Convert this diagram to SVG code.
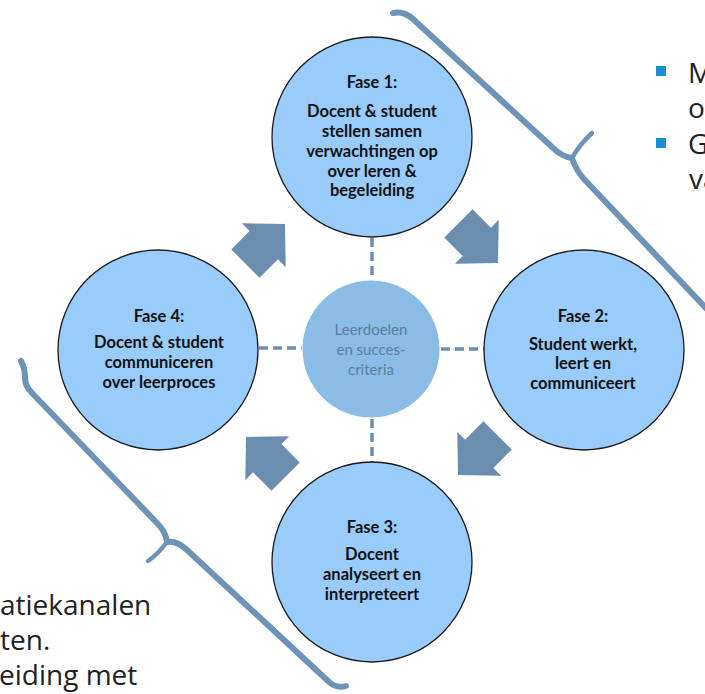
<svg xmlns="http://www.w3.org/2000/svg" width="705" height="694" viewBox="0 0 705 694">
<style>
.phase{fill:#99ccfb;stroke:#1a1a1a;stroke-width:1.3}
.hub{fill:#8bbce5;stroke:#ffffff;stroke-width:1}
.lbl{font-family:Lato,"Liberation Sans",sans-serif;font-weight:700;font-size:16.5px;fill:#111;text-anchor:middle}
.hubtxt{font-family:Lato,"Liberation Sans",sans-serif;font-size:15px;fill:#5b7ea1;text-anchor:middle}
.dash{stroke:#6b8fb2;stroke-width:3.5;stroke-dasharray:9 5;fill:none}
.arrow{fill:#6a8db0}
.brace{fill:none;stroke:#6d93b7;stroke-width:6;stroke-linecap:round;stroke-linejoin:round}
.body{font-family:"Open Sans","Liberation Sans",sans-serif;font-size:28px;fill:#222}
.bullet{fill:#1a8fd6}
</style>
<defs>
<polygon id="blk" points="0,0 -30,-31 -30,-20 -56,-20 -56,20 -30,20 -30,31"/>
</defs>
<g id="braces">
<path class="brace" d="M393,13 Q404,11 413,19 L552,147 Q562,157 572,158"/>
<path class="brace" d="M572,158 Q575,168 583,178 L722,325"/>
<path class="brace" d="M572,158 Q580,144 592,133" style="stroke-width:4.5"/>
<path class="brace" d="M21,361 Q25,368 25,378 Q25,386 32,393 L157,523 Q166,532 167,542"/>
<path class="brace" d="M167,542 Q176,540 186,549 L328,681 Q336,689 346,686"/>
<path class="brace" d="M167,542 Q158,554 148,561" style="stroke-width:4.5"/>
</g>
<g id="connectors">
<line class="dash" x1="372" y1="238" x2="372" y2="280"/>
<line class="dash" x1="372" y1="419" x2="372" y2="462"/>
<line class="dash" x1="259" y1="348" x2="302" y2="348"/>
<line class="dash" x1="441" y1="349" x2="484" y2="349"/>
<use href="#blk" class="arrow" transform="translate(285,224) rotate(-45)"/>
<use href="#blk" class="arrow" transform="translate(498,263) rotate(45)"/>
<use href="#blk" class="arrow" transform="translate(458,475) rotate(135)"/>
<use href="#blk" class="arrow" transform="translate(246,437) rotate(-135)"/>
</g>
<g id="hub">
<circle class="hub" cx="371" cy="349" r="69"/>
<text class="hubtxt" x="371" y="335">Leerdoelen</text>
<text class="hubtxt" x="371" y="355">en succes-</text>
<text class="hubtxt" x="371" y="375">criteria</text>
</g>
<g id="fase1">
<circle class="phase" cx="372" cy="137" r="100"/>
<text class="lbl" x="372" y="88">Fase 1:</text>
<text class="lbl" x="372" y="117">Docent &amp; student</text>
<text class="lbl" x="372" y="137">stellen samen</text>
<text class="lbl" x="372" y="157">verwachtingen op</text>
<text class="lbl" x="372" y="177">over leren &amp;</text>
<text class="lbl" x="372" y="196">begeleiding</text>
</g>
<g id="fase2">
<circle class="phase" cx="584" cy="350" r="100"/>
<text class="lbl" x="583" y="322">Fase 2:</text>
<text class="lbl" x="583" y="350">Student werkt,</text>
<text class="lbl" x="583" y="369">leert en</text>
<text class="lbl" x="583" y="389">communiceert</text>
</g>
<g id="fase3">
<circle class="phase" cx="372" cy="562" r="100"/>
<text class="lbl" x="372" y="533">Fase 3:</text>
<text class="lbl" x="372" y="560">Docent</text>
<text class="lbl" x="372" y="580">analyseert en</text>
<text class="lbl" x="372" y="600">interpreteert</text>
</g>
<g id="fase4">
<circle class="phase" cx="158" cy="350" r="100"/>
<text class="lbl" x="159" y="322">Fase 4:</text>
<text class="lbl" x="159" y="348">Docent &amp; student</text>
<text class="lbl" x="159" y="368">communiceren</text>
<text class="lbl" x="159" y="388">over leerproces</text>
</g>
<g id="text-right">
<rect class="bullet" x="656" y="66" width="10" height="10"/>
<rect class="bullet" x="656" y="138" width="10" height="10"/>
<text class="body" x="688" y="83">M</text>
<text class="body" x="688" y="118">o</text>
<text class="body" x="688" y="154">G</text>
<text class="body" x="689" y="189">va</text>
</g>
<g id="text-left">
<text class="body" x="0" y="615">atiekanalen</text>
<text class="body" x="0" y="650">ten.</text>
<text class="body" x="-1" y="685">eiding met</text>
</g>
</svg>
